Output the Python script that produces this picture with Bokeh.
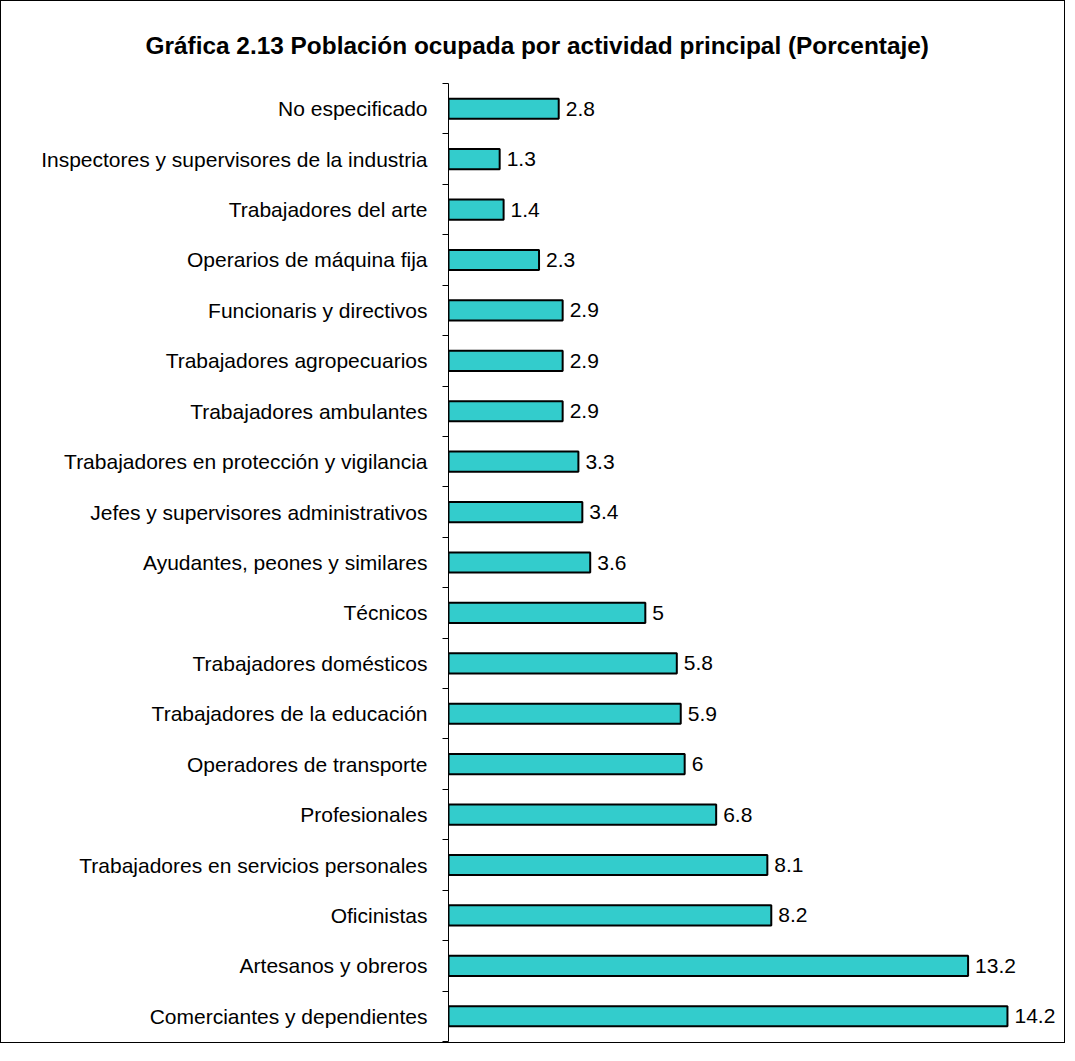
from bokeh.plotting import figure
from bokeh.models import Range1d, FixedTicker, ColumnDataSource
from bokeh.embed import file_html
from bokeh.resources import INLINE
from bokeh.core.properties import value

# bottom to top
categories = [
    "Comerciantes y dependientes",
    "Artesanos y obreros",
    "Oficinistas",
    "Trabajadores en servicios personales",
    "Profesionales",
    "Operadores de transporte",
    "Trabajadores de la educación",
    "Trabajadores domésticos",
    "Técnicos",
    "Ayudantes, peones y similares",
    "Jefes y supervisores administrativos",
    "Trabajadores en protección y vigilancia",
    "Trabajadores ambulantes",
    "Trabajadores agropecuarios",
    "Funcionaris y directivos",
    "Operarios de máquina fija",
    "Trabajadores del arte",
    "Inspectores y supervisores de la industria",
    "No especificado",
]
values = [14.2, 13.2, 8.2, 8.1, 6.8, 6, 5.9, 5.8, 5, 3.6, 3.4, 3.3, 2.9, 2.9, 2.9, 2.3, 1.4, 1.3, 2.8]
value_labels = ["14.2", "13.2", "8.2", "8.1", "6.8", "6", "5.9", "5.8", "5", "3.6", "3.4", "3.3",
                "2.9", "2.9", "2.9", "2.3", "1.4", "1.3", "2.8"]
title = "Gráfica 2.13 Población ocupada por actividad principal (Porcentaje)"

n = len(categories)
pos = list(range(n))
src = ColumnDataSource(dict(y=pos, v=values, lab=value_labels))

p = figure(width=1065, height=1043, output_backend="svg", toolbar_location=None,
           x_range=Range1d(0, 15.7), y_range=Range1d(-0.5, n - 0.5),
           min_border_left=447, min_border_right=0, min_border_bottom=3, min_border_top=82)
p.styles = {"border": "1px solid black"}
p.title.text = title
p.title.text_font = "Liberation Sans"
p.title.text_font_size = "24.4px"
p.title.text_font_style = "bold"
p.title.text_color = "black"
p.title.align = "left"
p.title.offset = -303
p.title.standoff = 50

p.hbar(y="y", right="v", left=0, height=0.4, source=src,
       fill_color="#33CCCC", line_color="black", line_width=2)
p.text(x="v", y="y", text="lab", source=src, x_offset=7, text_baseline="middle",
       text_font=value("Liberation Sans"), text_font_size="21px", text_color="black")

p.xaxis.visible = False
p.xgrid.visible = False
p.ygrid.visible = False
p.outline_line_color = None

yax = p.yaxis[0]
yax.ticker = FixedTicker(ticks=pos, minor_ticks=[i - 0.5 for i in range(n + 1)])
yax.major_label_overrides = {i: c for i, c in enumerate(categories)}
yax.major_tick_out = 0
yax.major_tick_in = 0
yax.minor_tick_out = 6
yax.minor_tick_in = 0
yax.minor_tick_line_color = "black"
yax.axis_line_color = "black"
yax.major_label_standoff = 15
yax.major_label_text_font = "Liberation Sans"
yax.major_label_text_font_size = "21px"
yax.major_label_text_color = "black"

open("out.html", "w").write(file_html(p, INLINE))
